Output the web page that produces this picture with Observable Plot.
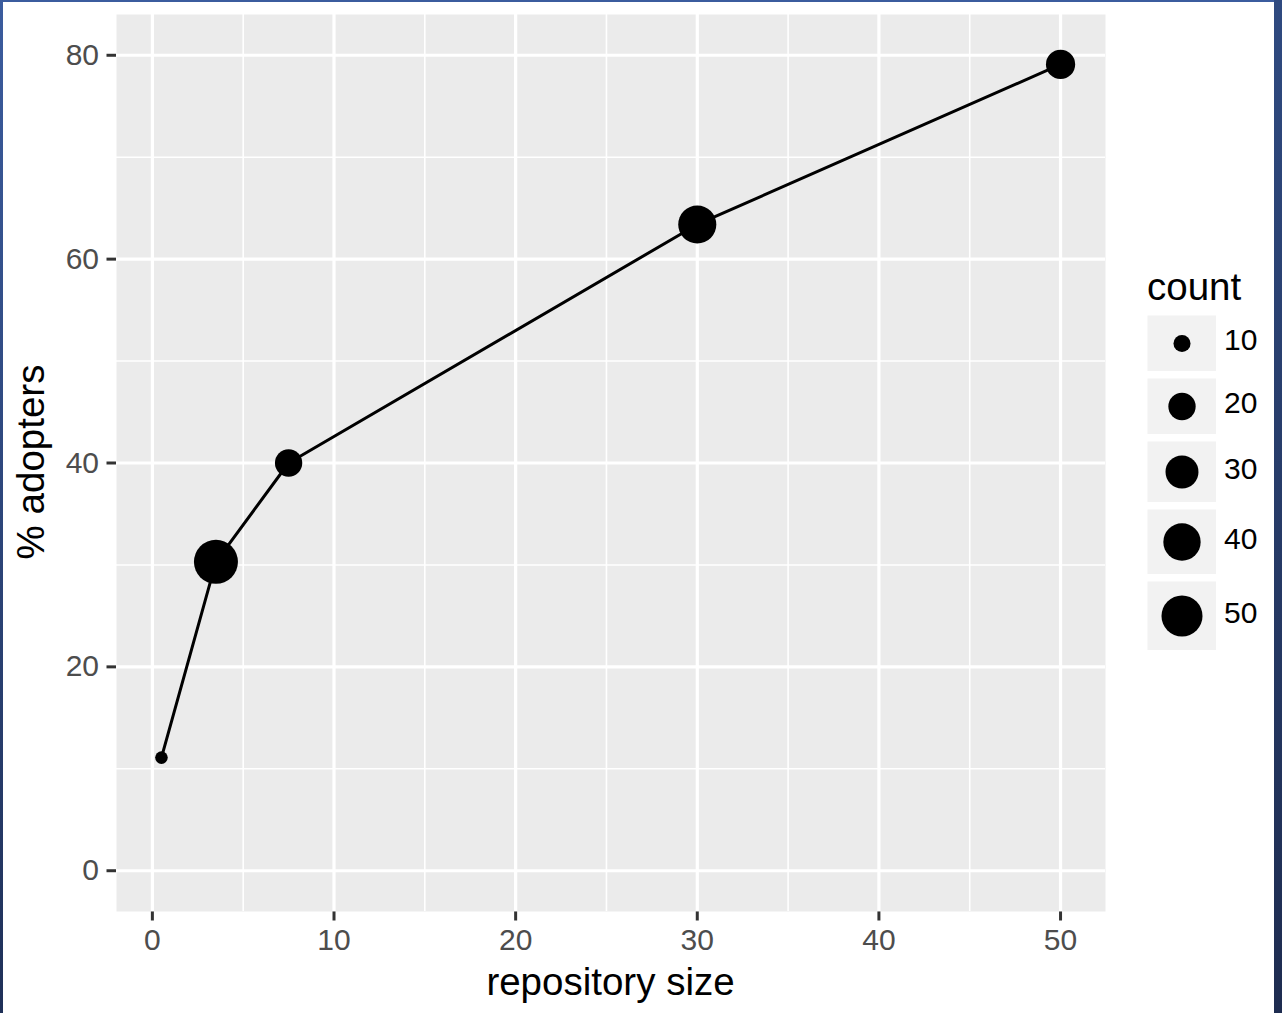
<!DOCTYPE html>
<html>
<head>
<meta charset="utf-8">
<script src="https://cdn.jsdelivr.net/npm/d3@7"></script>
<script src="https://cdn.jsdelivr.net/npm/@observablehq/plot@0.6"></script>
<style>
html,body{margin:0;padding:0;background:#fff;}
body{width:1282px;height:1013px;position:relative;overflow:hidden;font-family:"Liberation Sans",Arial,Helvetica,sans-serif;}
#chart{position:absolute;left:0;top:0;}
#titles{position:absolute;left:0;top:0;pointer-events:none;}
#legend{position:absolute;left:1147px;top:315px;}
.key{display:flex;align-items:center;margin-bottom:7px;}
.key svg{display:block;}
.key span{font-size:30px;margin-left:8px;color:#000;line-height:1;position:relative;top:-3px;}
#chart [aria-label^="x-axis"] line, #chart [aria-label^="x-axis"] path,
#chart [aria-label^="y-axis"] line, #chart [aria-label^="y-axis"] path{stroke:#333;stroke-width:3px;}
#chart [aria-label^="x-axis"] text, #chart [aria-label^="y-axis"] text{fill:#4d4d4d;}
.strip{position:absolute;z-index:5;}
</style>
</head>
<body>
<div id="chart"></div>
<svg id="titles" width="1282" height="1013" font-family="Liberation Sans, Arial, Helvetica, sans-serif">
  <text x="610.5" y="995" text-anchor="middle" font-size="38.5" fill="#000">repository size</text>
  <text transform="translate(44,462) rotate(-90)" text-anchor="middle" font-size="38.5" fill="#000">% adopters</text>
  <text x="1147" y="300" font-size="38.5" fill="#000">count</text>
</svg>
<div id="legend"></div>
<div class="strip" style="left:0;top:0;width:3px;height:1013px;background:linear-gradient(#3b5c9e,#1f3058);"></div>
<div class="strip" style="left:0;top:0;width:1282px;height:2px;background:#3b5c9e;"></div>
<div class="strip" style="left:1274px;top:0;width:8px;height:1013px;background:linear-gradient(#2f4a80,#1e2c50);"></div>
<script>
// ---- data ----
const repoSize = [0.5, 3.5, 7.5, 30, 50];
const adopters = [11.1, 30.3, 40.0, 63.4, 79.1];
const counts   = [9, 59, 20, 42, 23];
const xTicks = [0, 10, 20, 30, 40, 50];
const yTicks = [0, 20, 40, 60, 80];
const xMinor = [5, 15, 25, 35, 45];
const yMinor = [10, 30, 50, 70];
const yLimits = [0, 80];
const legendCounts = [10, 20, 30, 40, 50];

const data = repoSize.map((x, i) => ({x, y: adopters[i], count: counts[i]}));

// ggplot-like expansion (5%)
const xe = d3.extent(repoSize), xp = 0.05 * (xe[1] - xe[0]);
const xDomain = [xe[0] - xp, xe[1] + xp];
const yp = 0.05 * (yLimits[1] - yLimits[0]);
const yDomain = [yLimits[0] - yp, yLimits[1] + yp];

// ggplot area-style size mapping
const cMin = d3.min(counts), cMax = d3.max(counts);
const sizeT = c => Math.sqrt(Math.max(0, c - cMin) / (cMax - cMin));
const rOpts = {type: "linear", domain: [0, 1], range: [6.3, 22.0]};

const font = "Liberation Sans, Arial, Helvetica, sans-serif";

const chart = Plot.plot({
  width: 1130, height: 1013,
  marginLeft: 116, marginRight: 25, marginTop: 14, marginBottom: 102,
  style: {fontFamily: font, fontSize: "30px", background: "transparent", overflow: "visible"},
  x: {domain: xDomain, ticks: xTicks, tickSize: 9.5, tickPadding: 8, label: null},
  y: {domain: yDomain, ticks: yTicks, tickSize: 9.5, tickPadding: 8, label: null},
  r: rOpts,
  marks: [
    Plot.frame({fill: "#EBEBEB", stroke: "none"}),
    Plot.ruleX(xMinor, {stroke: "#fff", strokeWidth: 1.6}),
    Plot.ruleY(yMinor, {stroke: "#fff", strokeWidth: 1.6}),
    Plot.ruleX(xTicks, {stroke: "#fff", strokeWidth: 3.2}),
    Plot.ruleY(yTicks, {stroke: "#fff", strokeWidth: 3.2}),
    Plot.line(data, {x: "x", y: "y", stroke: "#000", strokeWidth: 3}),
    Plot.dot(data, {x: "x", y: "y", r: d => sizeT(d.count), fill: "#000", stroke: "none"})
  ]
});
document.getElementById("chart").appendChild(chart);

// ---- legend ----
let rScale = null;
try { rScale = Plot.scale({r: rOpts}); } catch (e) { rScale = null; }
const rOf = t => rScale ? rScale.apply(t) : rOpts.range[0] + t * (rOpts.range[1] - rOpts.range[0]);
const legend = document.getElementById("legend");
legendCounts.forEach(v => {
  const rr = rOf(sizeT(v));
  const h = Math.max(56, Math.round(2 * rr + 28));
  const key = Plot.plot({
    width: 69, height: h, margin: 0,
    style: {background: "transparent"},
    r: rOpts,
    marks: [
      Plot.frame({fill: "#F2F2F2", stroke: "none"}),
      Plot.dot([v], {r: d => sizeT(d), fill: "#000", stroke: "none", frameAnchor: "middle"})
    ]
  });
  const row = document.createElement("div");
  row.className = "key";
  row.appendChild(key);
  const lab = document.createElement("span");
  lab.textContent = String(v);
  row.appendChild(lab);
  legend.appendChild(row);
});
</script>
</body>
</html>
